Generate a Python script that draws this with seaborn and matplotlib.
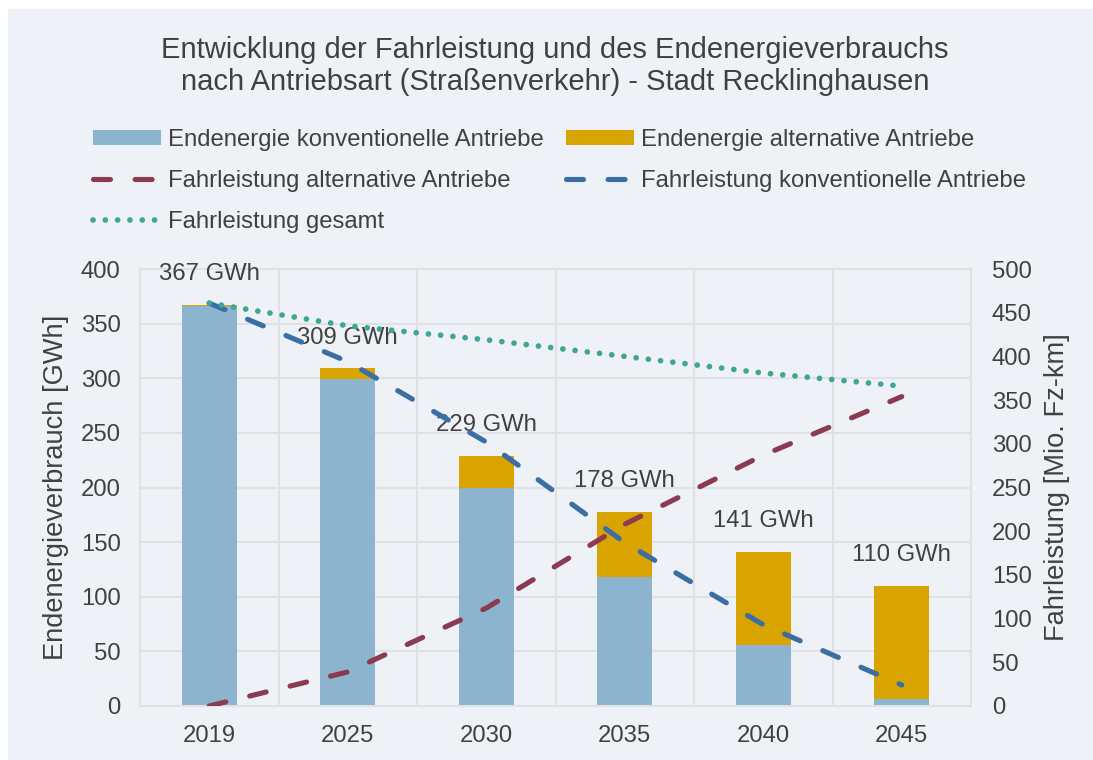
import numpy as np
import pandas as pd
import matplotlib.pyplot as plt
import seaborn as sns
from matplotlib.patches import Patch, Rectangle
from matplotlib.lines import Line2D

# Daten
jahre = ["2019", "2025", "2030", "2035", "2040", "2045"]
ee_konv = [366, 299, 200, 118, 56, 6]          # Endenergie konventionell [GWh]
ee_gesamt = [367, 309, 229, 178, 141, 110]     # Endenergie gesamt [GWh]
fl_alt = [0, 39, 112, 208, 287, 354]           # Fahrleistung alternativ [Mio. Fz-km]
fl_konv = [461, 394, 302, 187, 93, 24]         # Fahrleistung konventionell
fl_gesamt = [461, 435, 419, 400, 381, 366]     # Fahrleistung gesamt
etiketten = ["367 GWh", "309 GWh", "229 GWh", "178 GWh", "141 GWh", "110 GWh"]

df = pd.DataFrame({"Jahr": jahre, "konv": ee_konv, "gesamt": ee_gesamt})

bg = "#eef2f6"
txt = "#404040"
grid_c = "#dfe1e4"
c_konv = "#8db4cf"
c_alt = "#d9a300"
c_rot = "#8b3a52"
c_blau = "#3a6ea5"
c_gruen = "#40a595"

dash = (0, (3.3, 4.8))
dots = (0, (0.01, 2.15))

sns.set_style("white")
plt.rcParams["font.family"] = ["Liberation Sans", "DejaVu Sans"]
plt.rcParams["text.color"] = txt
plt.rcParams["axes.labelcolor"] = txt
plt.rcParams["xtick.color"] = txt
plt.rcParams["ytick.color"] = txt

fig = plt.figure(figsize=(10.93, 7.6), dpi=100)
fig.patch.set_facecolor("white")
fig.patches.append(Rectangle((8 / 1093, 0), 1 - 8 / 1093, 1 - 9 / 760,
                             transform=fig.transFigure, color=bg, zorder=-10))

ax = fig.add_axes([140 / 1093, 54 / 760, 831 / 1093, 437 / 760])
ax.set_facecolor(bg)

# gestapelte Balken: gesamt (gelb) und darueber konventionell (blau)
sns.barplot(data=df, x="Jahr", y="gesamt", color=c_alt, saturation=1, width=0.4,
            linewidth=0, ax=ax, zorder=2)
sns.barplot(data=df, x="Jahr", y="konv", color=c_konv, saturation=1, width=0.4,
            linewidth=0, ax=ax, zorder=2)

for i, (v, t) in enumerate(zip(ee_gesamt, etiketten)):
    ax.annotate(t, xy=(i, v), xytext=(0, 22), textcoords="offset points",
                ha="center", va="center", fontsize=17.2, color=txt, zorder=3)

ax.set_xlim(-0.5, 5.5)
ax.set_ylim(0, 400)
ax.set_yticks(np.arange(0, 401, 50))
ax.set_xticks(np.arange(-0.5, 6, 1), minor=True)
ax.grid(axis="y", which="major", color=grid_c, lw=1.5, zorder=0)
ax.grid(axis="x", which="minor", color=grid_c, lw=1.5, zorder=0)
ax.set_axisbelow(True)
for s in ax.spines.values():
    s.set_color(grid_c)
    s.set_linewidth(1.5)
ax.tick_params(axis="both", which="both", length=0, labelsize=17.2)
ax.tick_params(axis="y", pad=14)
ax.tick_params(axis="x", pad=14)
ax.set_xlabel("")
ax.set_ylabel("Endenergieverbrauch [GWh]", fontsize=19.6, rotation=90,
              ha="center", va="center", rotation_mode="anchor")
ax.yaxis.set_label_coords(-0.101, 0.5)

# Fahrleistung auf zweiter Achse
ax2 = ax.twinx()
pos = np.arange(len(jahre))
sns.lineplot(x=pos, y=fl_alt, ax=ax2, color=c_rot, lw=3.7,
             linestyle=dash, dash_capstyle="round")
sns.lineplot(x=pos, y=fl_konv, ax=ax2, color=c_blau, lw=3.7,
             linestyle=dash, dash_capstyle="round")
sns.lineplot(x=pos, y=fl_gesamt, ax=ax2, color=c_gruen, lw=4.1,
             linestyle=dots, dash_capstyle="round")
ax2.set_ylim(0, 500)
ax2.set_yticks(np.arange(0, 501, 50))
ax2.tick_params(axis="y", length=0, labelsize=17.2, pad=15)
for s in ax2.spines.values():
    s.set_visible(False)
ax2.set_ylabel("Fahrleistung [Mio. Fz-km]", fontsize=19.6, rotation=90,
               ha="center", va="center", rotation_mode="anchor")
ax2.yaxis.set_label_coords(1.1035, 0.5)

fig.text(555 / 1093, 1 - 66 / 760,
         "Entwicklung der Fahrleistung und des Endenergieverbrauchs\n"
         "nach Antriebsart (Straßenverkehr) - Stadt Recklinghausen",
         ha="center", va="center", fontsize=21, color=txt, linespacing=1.2)

handles = [
    Patch(facecolor=c_konv, edgecolor="none"),
    Line2D([], [], color=c_rot, lw=3.7, linestyle=dash, dash_capstyle="round"),
    Line2D([], [], color=c_gruen, lw=4.1, linestyle=dots, dash_capstyle="round"),
    Patch(facecolor=c_alt, edgecolor="none"),
    Line2D([], [], color=c_blau, lw=3.7, linestyle=dash, dash_capstyle="round"),
]
labels = [
    "Endenergie konventionelle Antriebe",
    "Fahrleistung alternative Antriebe",
    "Fahrleistung gesamt",
    "Endenergie alternative Antriebe",
    "Fahrleistung konventionelle Antriebe",
]
fig.legend(handles, labels, loc="upper left", bbox_to_anchor=(93 / 1093, 1 - 129 / 760),
           ncol=2, frameon=False, fontsize=17.2, handlelength=2.85, handleheight=0.55,
           handletextpad=0.31, columnspacing=0.9, labelspacing=0.8,
           borderpad=0, borderaxespad=0)

plt.savefig("out.png", dpi=100, facecolor=fig.get_facecolor())
